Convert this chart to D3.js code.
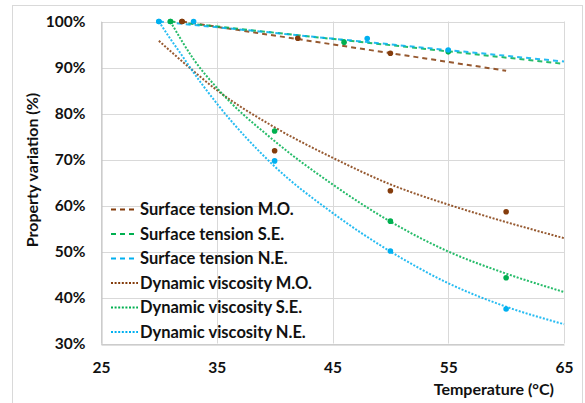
<!doctype html>
<html>
<head>
<meta charset="utf-8" />
<script src="https://cdn.jsdelivr.net/npm/d3@7"></script>
<style>
  body{margin:0;padding:0;background:#fff;}
  text{font-family:Lato,"Open Sans",sans-serif;font-weight:bold;fill:#111;}
</style>
</head>
<body>
<script>
  // tick values
  var xTicks = [25, 35, 45, 55, 65];
  var yTicks = [30, 40, 50, 60, 70, 80, 90, 100];

  // measured points (temperature, % of initial value)
  var stMO = [[32, 100], [42, 96.35], [50, 93.1]];
  var stSE = [[31, 100], [46, 95.5], [55, 93.4]];
  var stNE = [[30, 100], [33, 100], [48, 96.3], [55, 93.8]];
  var dvMO = [[32, 100], [40, 71.9], [50, 63.2], [60, 58.65]];
  var dvSE = [[31, 100], [40, 76.2], [50, 56.6], [60, 44.3]];
  var dvNE = [[30, 100], [40, 69.7], [50, 50.1], [60, 37.5]];

  // trend lines
  var stMOtrend = [[32, 100], [60, 89.3]];
  var stSEtrend = [[31, 100], [65, 90.8]];
  var stNEtrend = [[30, 100], [65, 91.3]];
  var dvMOtrend = [[30, 95.8], [33, 89.2], [35, 85.1], [40, 77.0], [45, 70.4], [50, 64.6], [55, 60.2], [60, 56.4], [65, 52.9]];
  var dvSEtrend = [[31, 100], [33, 91.8], [35, 85.6], [40, 74.0], [45, 64.6], [50, 56.5], [55, 50.0], [60, 45.2], [65, 41.2]];
  var dvNEtrend = [[30, 100], [31, 96.2], [32, 92.6], [33, 88.9], [35, 82.2], [40, 68.5], [45, 58.4], [50, 50.0], [55, 43.1], [60, 38.0], [65, 34.2]];

  var names = ["Surface tension M.O.", "Surface tension S.E.", "Surface tension N.E.",
               "Dynamic viscosity M.O.", "Dynamic viscosity S.E.", "Dynamic viscosity N.E."];

  var brown = "#843C0C", green = "#00B050", blue = "#00B0F0";

  var series = [
    {pts: stMO, trend: stMOtrend, color: brown, dash: "5,4"},
    {pts: stSE, trend: stSEtrend, color: green, dash: "5,4"},
    {pts: stNE, trend: stNEtrend, color: blue,  dash: "5,4"},
    {pts: dvMO, trend: dvMOtrend, color: brown, dash: "2,1.6"},
    {pts: dvSE, trend: dvSEtrend, color: green, dash: "2,1.6"},
    {pts: dvNE, trend: dvNEtrend, color: blue,  dash: "2,1.6"}
  ];

  var W = 585, H = 403;
  var svg = d3.select("body").append("svg").attr("width", W).attr("height", H);

  // chart border
  svg.append("rect").attr("x", 12.5).attr("y", 5.5).attr("width", 570).attr("height", 410)
     .attr("fill", "none").attr("stroke", "#d9d9d9");

  var x = d3.scaleLinear().domain([25, 65]).range([101, 564]);
  var y = d3.scaleLinear().domain([30, 100]).range([343.5, 21.5]);

  // grid
  svg.append("g").selectAll("line").data(yTicks).enter().append("line")
     .attr("x1", x(25)).attr("x2", x(65))
     .attr("y1", function(d){ return Math.round(y(d)) + 0.5; })
     .attr("y2", function(d){ return Math.round(y(d)) + 0.5; })
     .attr("stroke", "#d9d9d9");
  svg.append("g").selectAll("line").data(xTicks).enter().append("line")
     .attr("y1", y(30)).attr("y2", y(100))
     .attr("x1", function(d){ return Math.round(x(d)) + 0.5; })
     .attr("x2", function(d){ return Math.round(x(d)) + 0.5; })
     .attr("stroke", "#d9d9d9");

  // axes
  var xAxis = d3.axisBottom(x).tickValues(xTicks).tickSize(0).tickPadding(17);
  var yAxis = d3.axisLeft(y).tickValues(yTicks).tickSize(0).tickPadding(16)
                .tickFormat(function(d){ return d + "%"; });
  var gx = svg.append("g").attr("transform", "translate(0," + (Math.round(y(30)) + 0.5) + ")").call(xAxis);
  var gy = svg.append("g").attr("transform", "translate(" + (Math.round(x(25)) + 0.5) + ",0)").call(yAxis);
  gx.select(".domain").attr("stroke", "#bfbfbf");
  gy.select(".domain").attr("stroke", "#bfbfbf");
  svg.selectAll(".tick text").attr("font-size", "15.5px").attr("font-family", "Lato").attr("fill", "#111");

  svg.append("text").attr("x", 554).attr("y", 395).attr("text-anchor", "end")
     .attr("font-size", "16px").text("Temperature (°C)");
  svg.append("text").attr("transform", "translate(38,170) rotate(-90)").attr("text-anchor", "middle")
     .attr("font-size", "16px").text("Property variation (%)");

  // trend lines
  var line = d3.line().x(function(d){ return x(d[0]); }).y(function(d){ return y(d[1]); })
               .curve(d3.curveMonotoneX);
  series.forEach(function(s){
    svg.append("path").attr("d", line(s.trend)).attr("fill", "none")
       .attr("stroke", s.color).attr("stroke-width", 2).attr("stroke-dasharray", s.dash)
       .attr("opacity", 0.85);
  });

  // markers
  series.forEach(function(s){
    svg.append("g").selectAll("circle").data(s.pts).enter().append("circle")
       .attr("cx", function(d){ return x(d[0]); })
       .attr("cy", function(d){ return y(d[1]); })
       .attr("r", 2.8).attr("fill", s.color);
  });

  // legend
  var leg = svg.append("g");
  series.forEach(function(s, i){
    var ly = 209.5 + i * 24.5;
    leg.append("line").attr("x1", 111).attr("x2", 138).attr("y1", ly).attr("y2", ly)
       .attr("stroke", s.color).attr("stroke-width", 2).attr("stroke-dasharray", i < 3 ? "5,4" : "2,1.6");
    leg.append("text").attr("x", 140).attr("y", ly + 5.5).attr("font-size", "16.5px").text(names[i]);
  });
</script>
</body>
</html>
